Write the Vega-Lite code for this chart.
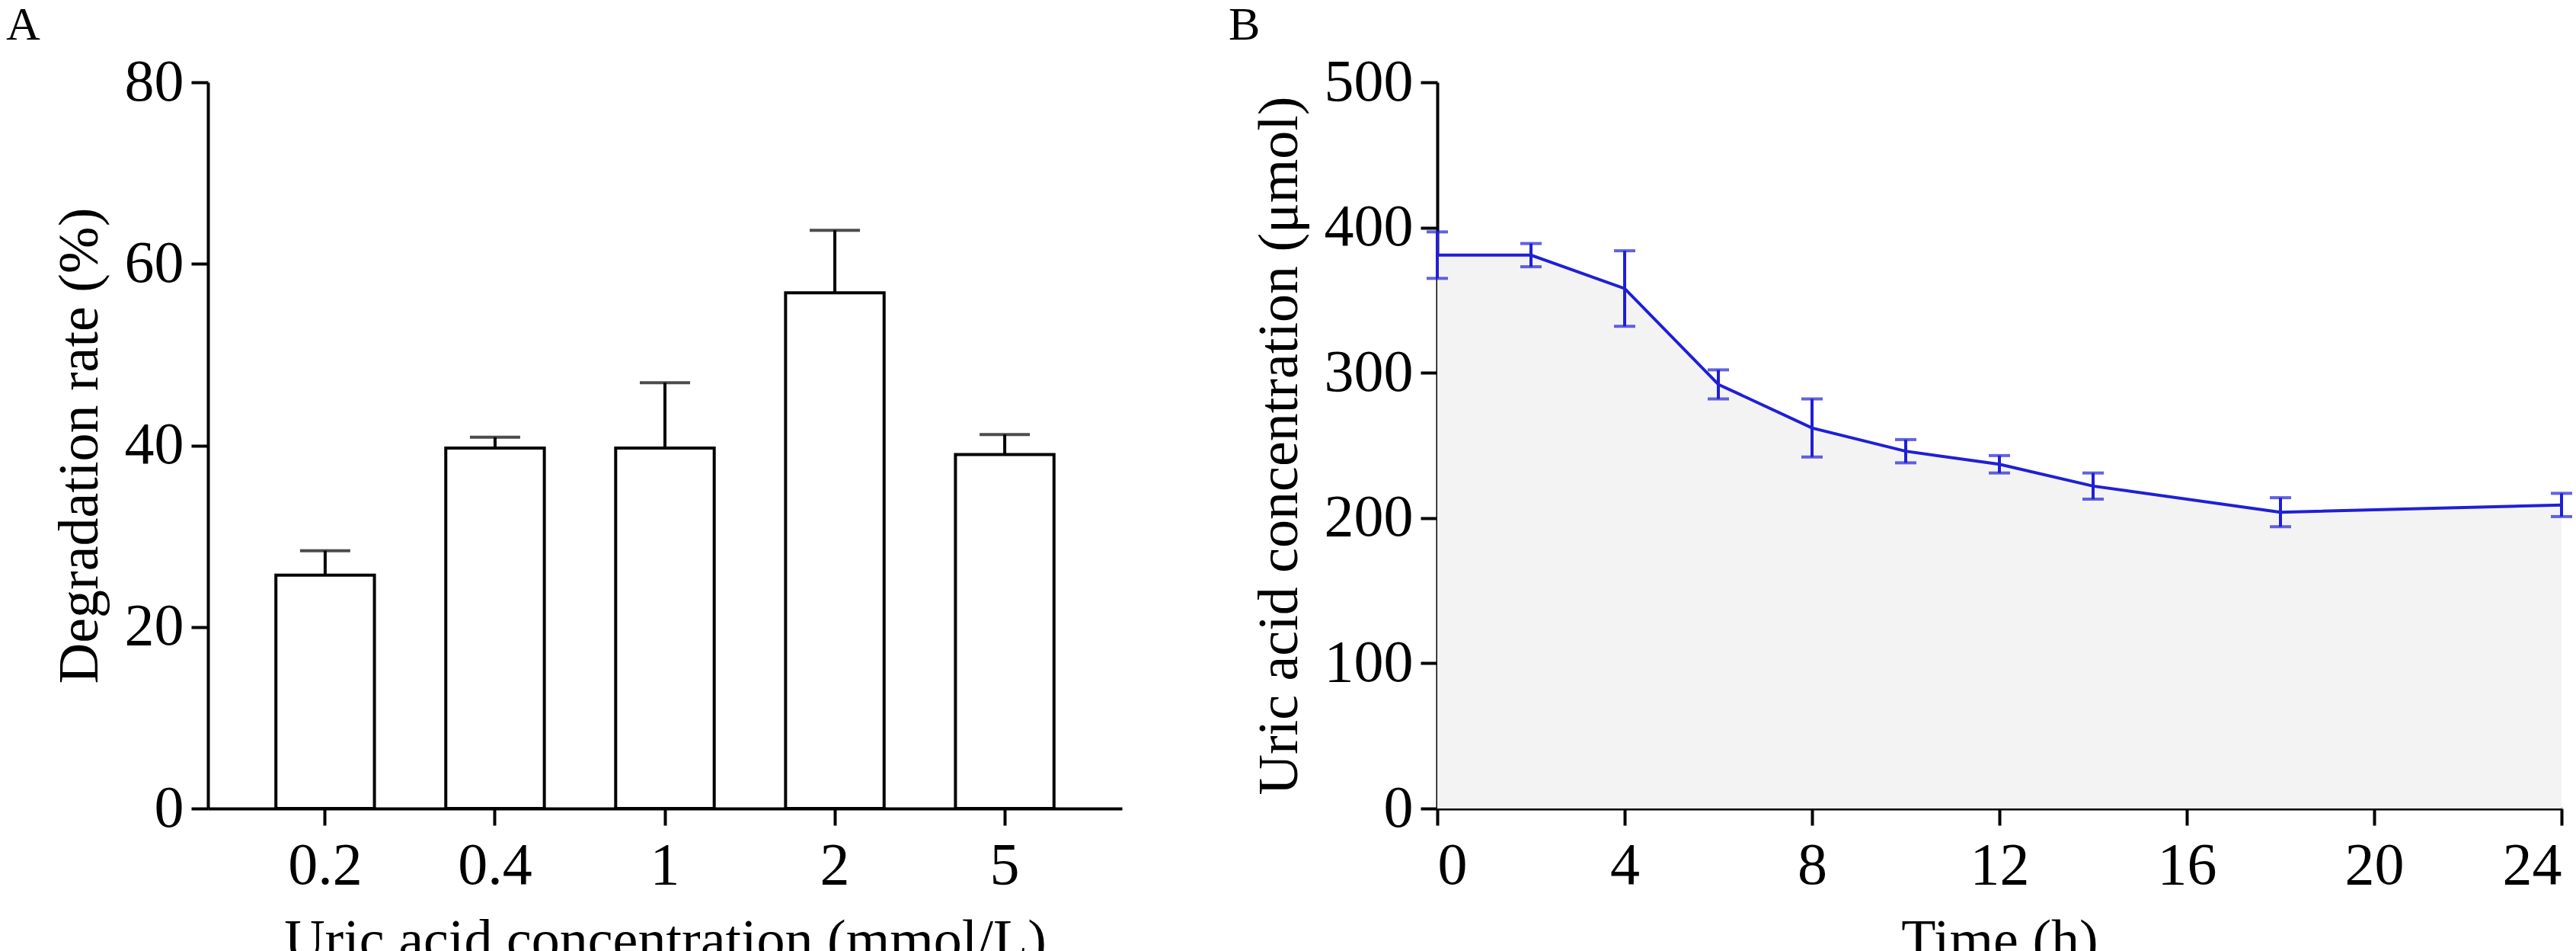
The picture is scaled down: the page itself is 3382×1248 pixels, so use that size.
{
  "$schema": "https://vega.github.io/schema/vega-lite/v6.json",
  "background": "white",
  "padding": {"left": 8, "top": 2, "right": 30, "bottom": 5},
  "spacing": 140,
  "config": {
    "font": "Liberation Serif",
    "view": {"stroke": null},
    "axis": {
      "domainColor": "black", "domainWidth": 4, "tickColor": "black", "tickWidth": 4, "tickSize": 22,
      "labelFont": "Liberation Serif", "labelFontSize": 78, "labelColor": "black",
      "titleFont": "Liberation Serif", "titleFontSize": 74, "titleFontWeight": "normal", "titleColor": "black",
      "grid": false, "labelPadding": 10, "titlePadding": 20
    },
    "title": {"font": "Liberation Serif", "fontSize": 62, "fontWeight": "normal", "anchor": "start", "frame": "bounds", "color": "black", "offset": 4}
  },
  "datasets": {
    "bars": [
      {"conc": "0.2", "rate": 25.7, "hi": 28.4},
      {"conc": "0.4", "rate": 39.7, "hi": 40.9},
      {"conc": "1", "rate": 39.7, "hi": 46.9},
      {"conc": "2", "rate": 56.8, "hi": 63.7},
      {"conc": "5", "rate": 39.0, "hi": 41.2}
    ],
    "time": [
      {"t": 0, "v": 381, "lo": 365, "hi": 397},
      {"t": 2, "v": 381, "lo": 373, "hi": 389},
      {"t": 4, "v": 358, "lo": 332, "hi": 384},
      {"t": 6, "v": 292, "lo": 282, "hi": 302},
      {"t": 8, "v": 262, "lo": 242, "hi": 282},
      {"t": 10, "v": 246, "lo": 238, "hi": 254},
      {"t": 12, "v": 237, "lo": 231, "hi": 243},
      {"t": 14, "v": 222, "lo": 213, "hi": 231},
      {"t": 18, "v": 204, "lo": 194, "hi": 214},
      {"t": 24, "v": 209, "lo": 201, "hi": 217}
    ]
  },
  "hconcat": [
    {
      "title": {"text": "A", "dx": -60},
      "width": 1200,
      "height": 953,
      "data": {"name": "bars"},
      "encoding": {
        "x": {"field": "conc", "type": "nominal", "sort": null, "title": "Uric acid concentration (mmol/L)",
          "scale": {"paddingInner": 0.42, "paddingOuter": 0.4},
          "axis": {"labelAngle": 0, "labelPadding": 14, "titlePadding": 24}}
      },
      "layer": [
        {
          "mark": {"type": "rule", "stroke": "black", "strokeWidth": 4},
          "encoding": {"y": {"field": "rate", "type": "quantitative"}, "y2": {"field": "hi"}}
        },
        {
          "mark": {"type": "tick", "color": "black", "thickness": 4, "size": 66, "orient": "horizontal"},
          "encoding": {"y": {"field": "hi", "type": "quantitative"}}
        },
        {
          "mark": {"type": "bar", "fill": "white", "stroke": "black", "strokeWidth": 4},
          "encoding": {
            "y": {"field": "rate", "type": "quantitative", "title": "Degradation rate (%)",
              "scale": {"domain": [0, 80], "nice": false},
              "axis": {"values": [0, 20, 40, 60, 80]}}
          }
        }
      ]
    },
    {
      "title": {"text": "B", "dx": -30},
      "width": 1476,
      "height": 953,
      "data": {"name": "time"},
      "encoding": {
        "x": {"field": "t", "type": "quantitative", "title": "Time (h)",
          "scale": {"domain": [0, 24], "nice": false},
          "axis": {"values": [0, 4, 8, 12, 16, 20, 24], "labelPadding": 14, "titlePadding": 24}}
      },
      "layer": [
        {
          "mark": {"type": "area", "color": "#f3f3f3"},
          "encoding": {"y": {"field": "v", "type": "quantitative", "title": "Uric acid concentration (μmol)",
            "scale": {"domain": [0, 500], "nice": false},
            "axis": {"values": [0, 100, 200, 300, 400, 500]}}}
        },
        {
          "mark": {"type": "rule", "stroke": "#1f1fd6", "strokeWidth": 4},
          "encoding": {"y": {"field": "lo", "type": "quantitative"}, "y2": {"field": "hi"}}
        },
        {
          "mark": {"type": "tick", "color": "#1f1fd6", "thickness": 4, "size": 28, "orient": "horizontal"},
          "encoding": {"y": {"field": "lo", "type": "quantitative"}}
        },
        {
          "mark": {"type": "tick", "color": "#1f1fd6", "thickness": 4, "size": 28, "orient": "horizontal"},
          "encoding": {"y": {"field": "hi", "type": "quantitative"}}
        },
        {
          "mark": {"type": "line", "color": "#1f1fd6", "strokeWidth": 4},
          "encoding": {"y": {"field": "v", "type": "quantitative"}}
        }
      ]
    }
  ]
}
